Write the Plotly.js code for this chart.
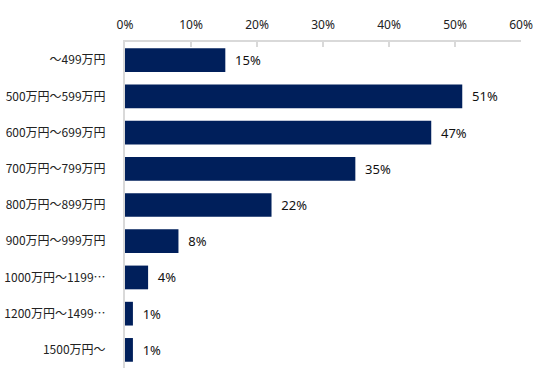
<!DOCTYPE html>
<html><head><meta charset="utf-8">
<script src="https://cdn.plot.ly/plotly-3.0.1.min.js"></script>
<style>html,body{margin:0;padding:0;background:#fff}#c{width:549px;height:373px}</style>
</head><body><div id="c"></div>
<script>
const categories = ["～499万円","500万円～599万円","600万円～699万円","700万円～799万円","800万円～899万円","900万円～999万円","1000万円～1199…","1200万円～1499…","1500万円～"];
const values = [15.2, 51.1, 46.4, 34.9, 22.2, 8.1, 3.5, 1.2, 1.2];
const labels = ["15%","51%","47%","35%","22%","8%","4%","1%","1%"];
const xTickVals = [0,10,20,30,40,50,60];
const xTickText = ["0%","10%","20%","30%","40%","50%","60%"];

const trace = {
  type: 'bar', orientation: 'h',
  y: categories, x: values,
  text: labels.map(t => '  ' + t),
  textposition: 'outside', cliponaxis: false,
  textfont: {family: 'Noto Sans, sans-serif', size: 13, color: '#111'},
  marker: {color: '#001f5b'},
  hoverinfo: 'none'
};
const layout = {
  width: 549, height: 373,
  margin: {l: 124.5, r: 28, t: 42, b: 5},
  paper_bgcolor: '#fff', plot_bgcolor: '#fff',
  bargap: 0.345,
  showlegend: false,
  xaxis: {
    side: 'top', range: [0, 60], tickvals: xTickVals, ticktext: xTickText,
    showgrid: false, zeroline: false, showline: true, linecolor: '#d9d9d9', linewidth: 2,
    ticks: 'inside', ticklen: 5, tickcolor: '#d9d9d9', tickwidth: 2,
    ticklabelstandoff: 6,
    tickfont: {family: 'Noto Sans, sans-serif', size: 12, color: '#222'}
  },
  yaxis: {
    autorange: 'reversed', showgrid: false, zeroline: false,
    showline: true, linecolor: '#d9d9d9', linewidth: 2,
    ticks: '', ticklabelstandoff: 15,
    tickfont: {family: 'Noto Sans CJK JP, sans-serif', size: 12, color: '#222'}
  }
};
Plotly.newPlot('c', [trace], layout, {staticPlot: true, displayModeBar: false});
</script></body></html>
